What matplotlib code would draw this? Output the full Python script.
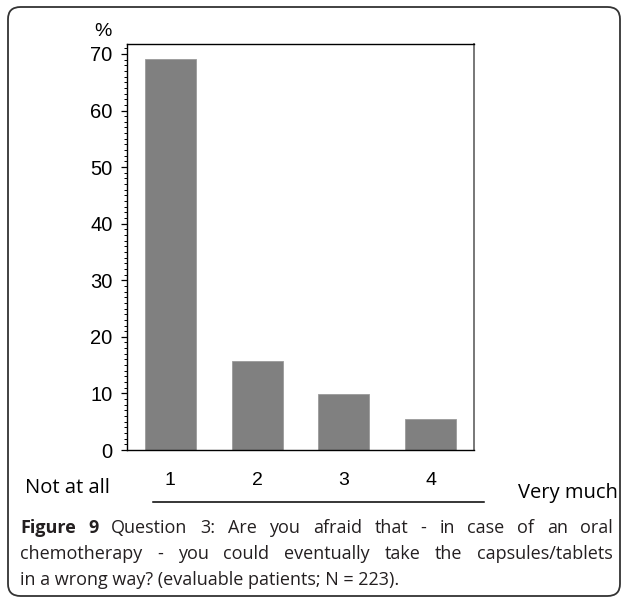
import matplotlib
matplotlib.use('Agg')
import matplotlib.pyplot as plt
from matplotlib.patches import FancyBboxPatch
from matplotlib.ticker import MultipleLocator
from matplotlib.lines import Line2D

categories = [1, 2, 3, 4]
tick_labels = ['1', '2', '3', '4']
percent = [69.1, 15.7, 9.9, 5.4]

caption_lines = [
    [('Figure 9', 'bold'), ('Question 3: Are you afraid that - in case of an oral', 'normal')],
    [('chemotherapy - you could eventually take the capsules/tablets', 'normal')],
    [('in a wrong way? (evaluable patients; N = 223).', 'normal')],
]

W, H = 627, 604
fig = plt.figure(figsize=(W / 100, H / 100), dpi=100)

def fx(px):
    return px / W

def fy(py):
    return 1 - py / H

# rounded frame around the figure panel
frame = FancyBboxPatch((fx(8), fy(596)), fx(620) - fx(8), fy(7) - fy(596),
                       boxstyle='round,pad=0,rounding_size=0.02',
                       transform=fig.transFigure, fill=False,
                       edgecolor='#333333', linewidth=1.3)
fig.patches.append(frame)

ax = fig.add_axes([fx(127), fy(450), fx(474) - fx(127), fy(44.3) - fy(450)])
ax.bar(categories, percent, width=0.59, color='#808080', edgecolor='#9a9a9a', linewidth=0.6)
ax.set_xlim(0.5, 4.5)
ax.set_ylim(0, 71.7)
ax.yaxis.set_major_locator(MultipleLocator(10))
ax.yaxis.set_minor_locator(MultipleLocator(1))
ax.set_xticks(categories)
ax.set_xticklabels(tick_labels, fontfamily='Liberation Sans', fontsize=14)
ax.tick_params(axis='x', length=0, pad=16)
ax.tick_params(axis='y', which='major', length=4.5, width=0.9, pad=6, labelsize=14.5)
ax.tick_params(axis='y', which='minor', length=2.5, width=0.7)
for lab in ax.get_yticklabels():
    lab.set_fontfamily('Liberation Sans')
for s in ['top', 'left', 'bottom']:
    ax.spines[s].set_color('black')
    ax.spines[s].set_linewidth(1.0)
ax.spines['right'].set_color('#777777')
ax.spines['right'].set_linewidth(1.4)

fig.text(fx(112), fy(31), '%', ha='right', va='center',
         fontfamily='Liberation Sans', fontsize=14)

fig.text(fx(25), fy(488), 'Not at all', ha='left', va='center',
         fontfamily='Open Sans', fontsize=14.5)
fig.text(fx(618), fy(493), 'Very much', ha='right', va='center',
         fontfamily='Open Sans', fontsize=14.5)
fig.lines.append(Line2D([fx(153), fx(484)], [fy(501.5), fy(501.5)],
                        transform=fig.transFigure, color='black', linewidth=1.1))

# caption, first two lines justified between x=20 and x=613
fig.canvas.draw()
renderer = fig.canvas.get_renderer()
cap_left, cap_right = 20, 613
cap_y = [528, 554, 580]
cap_size = 13
cap_color = '#231f20'

for i, parts in enumerate(caption_lines):
    if i == 2:
        fig.text(fx(cap_left), fy(cap_y[i]), parts[0][0], ha='left', va='center',
                 fontfamily='Open Sans', fontsize=cap_size, color=cap_color)
        continue
    words = []
    for txt, wt in parts:
        for w in txt.split(' '):
            words.append((w, wt))
    arts = []
    widths = []
    for w, wt in words:
        t = fig.text(0, fy(cap_y[i]), w, ha='left', va='center', fontfamily='Open Sans',
                     fontsize=cap_size, fontweight=wt, color=cap_color)
        arts.append(t)
        widths.append(t.get_window_extent(renderer).width)
    gap = (cap_right - cap_left - sum(widths)) / (len(words) - 1)
    x = cap_left
    for t, wdt in zip(arts, widths):
        t.set_x(fx(x))
        x += wdt + gap

fig.savefig('out.png', dpi=100)
